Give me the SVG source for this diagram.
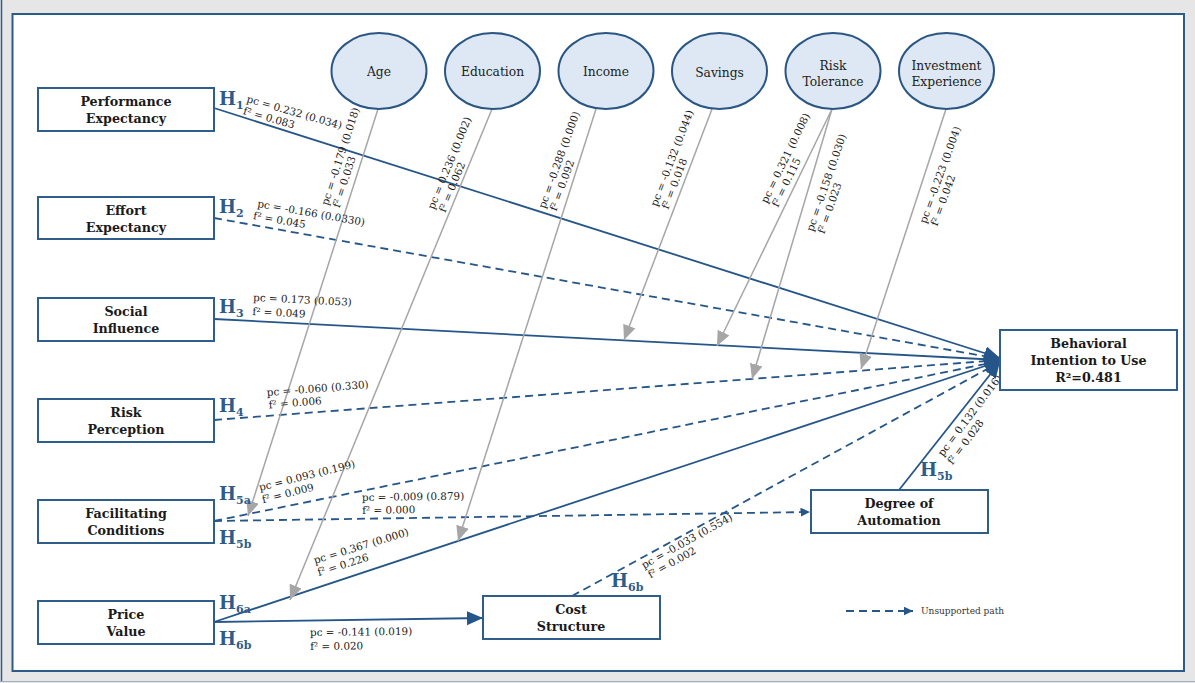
<svg xmlns="http://www.w3.org/2000/svg" width="1195" height="683" viewBox="0 0 1195 683">
  <defs>
    <style>
      .frame { fill: #ffffff; stroke: #2d5a87; stroke-width: 2; }
      .box { fill: #ffffff; stroke: #2f5d8c; stroke-width: 2; }
      .oval { fill: #dde8f4; stroke: #2a5684; stroke-width: 2; }
      .bt { font-family: "DejaVu Serif", "Liberation Serif", serif; font-weight: bold; font-size: 12.7px; fill: #1a1a1a; text-anchor: middle; }
      .ot { font-family: "DejaVu Serif", "Liberation Serif", serif; font-size: 12.3px; fill: #222222; text-anchor: middle; }
      .lab { font-family: "DejaVu Serif", "Liberation Serif", serif; font-size: 10.4px; fill: #1a1a1a; }
      .h { font-family: "DejaVu Serif", "Liberation Serif", serif; font-weight: bold; font-size: 18px; fill: #2e5c8a; }
      .h tspan { font-size: 11px; }
      .leg { font-family: "DejaVu Serif", "Liberation Serif", serif; font-size: 9px; fill: #333333; }
      .sol { fill: none; stroke: #255689; stroke-width: 1.8; }
      .dash { fill: none; stroke: #255689; stroke-width: 1.8; stroke-dasharray: 8 5; }
      .mod { fill: none; stroke: #a6a6a6; stroke-width: 1.5; marker-end: url(#arrGray); }
    </style>
    <marker id="arrBig" markerUnits="userSpaceOnUse" markerWidth="16" markerHeight="16" refX="16" refY="7" orient="auto">
      <path d="M0,0 L16,7 L0,14 Z" fill="#255689"/>
    </marker>
    <marker id="arrSm" markerUnits="userSpaceOnUse" markerWidth="10" markerHeight="10" refX="9.5" refY="4.5" orient="auto">
      <path d="M0,0 L9.5,4.5 L0,9 Z" fill="#255689"/>
    </marker>
    <marker id="arrGray" markerUnits="userSpaceOnUse" markerWidth="16" markerHeight="14" refX="15" refY="6.5" orient="auto">
      <path d="M0,0 L15,6.5 L0,13 Z" fill="#a6a6a6"/>
    </marker>
  </defs>

  <!-- page background and panel -->
  <rect x="0" y="0" width="1195" height="683" fill="#e6e6e6"/>
  <line x1="1.5" y1="0" x2="1.5" y2="682" stroke="#2e5e8e" stroke-width="1.5"/>
  <line x1="0" y1="681.5" x2="1195" y2="681.5" stroke="#9fb0c2" stroke-width="1"/>
  <rect class="frame" x="12.5" y="14" width="1171.5" height="657"/>

  <!-- connectors -->
  <g id="connectors">
    <path class="sol" d="M214,108 L1000,358" marker-end="url(#arrBig)"/>
    <path class="dash" d="M214,218 L1000,359" marker-end="url(#arrSm)"/>
    <path class="sol" d="M214,319 L1000,360" marker-end="url(#arrBig)"/>
    <path class="dash" d="M214,420 L1000,360" marker-end="url(#arrSm)"/>
    <path class="dash" d="M214,521 L1000,361" marker-end="url(#arrSm)"/>
    <path class="dash" d="M214,521 L810,512" marker-end="url(#arrSm)"/>
    <path class="sol" d="M214,622 L1000,361" marker-end="url(#arrBig)"/>
    <path class="sol" d="M214,622 L483,618" marker-end="url(#arrBig)"/>
    <path class="dash" d="M572,596 L1000,362" marker-end="url(#arrSm)"/>
    <path class="sol" d="M899,490 L1000,362" marker-end="url(#arrBig)"/>

    <!-- moderating effects -->
    <path class="mod" d="M378,109 L248,516"/>
    <path class="mod" d="M492,109 L290,600"/>
    <path class="mod" d="M596,109 L458,541"/>
    <path class="mod" d="M712,109 L624,340"/>
    <path class="mod" d="M832,109 L717,346"/>
    <path class="mod" d="M832,109 L752,379"/>
    <path class="mod" d="M946,109 L861,369"/>

    <!-- path coefficients -->
    <g class="lab">
      <g transform="translate(246,102) rotate(16)"><text x="0" y="0">pc = 0.232 (0.034)</text><text x="0" y="12.5">f² = 0.083</text></g>
      <g transform="translate(257,207) rotate(10)"><text x="0" y="0">pc = -0.166 (0.0330)</text><text x="-2" y="12.5">f² = 0.045</text></g>
      <g transform="translate(253,301) rotate(2.8)"><text x="0" y="0">pc = 0.173 (0.053)</text><text x="0" y="14">f² = 0.049</text></g>
      <g transform="translate(267,396) rotate(-4.5)"><text x="0" y="0">pc = -0.060 (0.330)</text><text x="1" y="12.5">f² = 0.006</text></g>
      <g transform="translate(260,491) rotate(-14)"><text x="0" y="0">pc = 0.093 (0.199)</text><text x="0" y="12.5">f² = 0.009</text></g>
      <g transform="translate(362,501) rotate(-0.8)"><text x="0" y="0">pc = -0.009 (0.879)</text><text x="0" y="13">f² = 0.000</text></g>
      <g transform="translate(315,564) rotate(-17)"><text x="0" y="0">pc = 0.367 (0.000)</text><text x="0" y="12.5">f² = 0.226</text></g>
      <g transform="translate(310,636) rotate(-0.6)"><text x="0" y="0">pc = -0.141 (0.019)</text><text x="0" y="14">f² = 0.020</text></g>
      <g transform="translate(644,569) rotate(-29)"><text x="0" y="0">pc = -0.033 (0.554)</text><text x="1" y="11.5">f² = 0.002</text></g>
      <g transform="translate(943,457) rotate(-53)"><text x="0" y="0">pc = 0.132 (0.016)</text><text x="-1" y="12.5">f² = 0.028</text></g>

      <g transform="translate(328,206) rotate(-72)"><text x="0" y="0">pc = -0.179 (0.018)</text><text x="1.5" y="11.5">f² = 0.033</text></g>
      <g transform="translate(434,210) rotate(-67.6)"><text x="0" y="0">pc = 0.236 (0.002)</text><text x="1.5" y="11.5">f² = 0.062</text></g>
      <g transform="translate(545,209) rotate(-70)"><text x="0" y="0">pc = -0.288 (0.000)</text><text x="1.5" y="11.5">f² = 0.092</text></g>
      <g transform="translate(657,207) rotate(-69)"><text x="0" y="0">pc = -0.132 (0.044)</text><text x="1.5" y="11.5">f² = 0.018</text></g>
      <g transform="translate(767,204) rotate(-64)"><text x="0" y="0">pc = 0.321 (0.008)</text><text x="1.5" y="11.5">f² = 0.115</text></g>
      <g transform="translate(813,232) rotate(-71)"><text x="0" y="0">pc = -0.158 (0.030)</text><text x="1.5" y="11.5">f² = 0.023</text></g>
      <g transform="translate(926,224) rotate(-70)"><text x="0" y="0">pc = -0.223 (0.004)</text><text x="1.5" y="11.5">f² = 0.042</text></g>
    </g>

    <!-- hypothesis tags -->
    <text class="h" x="219" y="105">H<tspan dy="4">1</tspan></text>
    <text class="h" x="219" y="212.5">H<tspan dy="4">2</tspan></text>
    <text class="h" x="219" y="313">H<tspan dy="4">3</tspan></text>
    <text class="h" x="219" y="412">H<tspan dy="4">4</tspan></text>
    <text class="h" x="219" y="500">H<tspan dy="4">5a</tspan></text>
    <text class="h" x="219" y="544">H<tspan dy="4">5b</tspan></text>
    <text class="h" x="219" y="609">H<tspan dy="4">6a</tspan></text>
    <text class="h" x="219" y="645">H<tspan dy="4">6b</tspan></text>
    <text class="h" x="611" y="587">H<tspan dy="4">6b</tspan></text>
    <text class="h" x="920" y="476">H<tspan dy="4">5b</tspan></text>
  </g>

  <!-- constructs -->
  <g id="performance-expectancy"><rect class="box" x="38" y="88" width="176" height="43"/><text class="bt" x="126" y="106">Performance</text><text class="bt" x="126" y="123">Expectancy</text></g>
  <g id="effort-expectancy"><rect class="box" x="38" y="197" width="176" height="42"/><text class="bt" x="126" y="214.5">Effort</text><text class="bt" x="126" y="231.5">Expectancy</text></g>
  <g id="social-influence"><rect class="box" x="38" y="298" width="176" height="43"/><text class="bt" x="126" y="316">Social</text><text class="bt" x="126" y="333">Influence</text></g>
  <g id="risk-perception"><rect class="box" x="38" y="399" width="176" height="43"/><text class="bt" x="126" y="417">Risk</text><text class="bt" x="126" y="434">Perception</text></g>
  <g id="facilitating-conditions"><rect class="box" x="38" y="500" width="176" height="43"/><text class="bt" x="126" y="518">Facilitating</text><text class="bt" x="126" y="535">Conditions</text></g>
  <g id="price-value"><rect class="box" x="38" y="601" width="176" height="43"/><text class="bt" x="126" y="619">Price</text><text class="bt" x="126" y="636">Value</text></g>
  <g id="cost-structure"><rect class="box" x="483" y="596" width="177" height="43"/><text class="bt" x="571" y="614">Cost</text><text class="bt" x="571" y="631">Structure</text></g>
  <g id="degree-of-automation"><rect class="box" x="811" y="490" width="177" height="43"/><text class="bt" x="899" y="508">Degree of</text><text class="bt" x="899" y="525">Automation</text></g>
  <g id="behavioral-intention"><rect class="box" x="1000" y="330" width="177" height="60"/><text class="bt" x="1088.5" y="348">Behavioral</text><text class="bt" x="1088.5" y="365">Intention to Use</text><text class="bt" x="1088.5" y="382">R²=0.481</text></g>

  <!-- moderators -->
  <g id="age"><ellipse class="oval" cx="379" cy="71" rx="47.5" ry="38"/><text class="ot" x="379" y="75.5">Age</text></g>
  <g id="education"><ellipse class="oval" cx="492.5" cy="71" rx="47.5" ry="38"/><text class="ot" x="492.5" y="75.5">Education</text></g>
  <g id="income"><ellipse class="oval" cx="606" cy="71" rx="47.5" ry="38"/><text class="ot" x="606" y="75.5">Income</text></g>
  <g id="savings"><ellipse class="oval" cx="719.5" cy="71" rx="47.5" ry="38"/><text class="ot" x="719.5" y="76.5">Savings</text></g>
  <g id="risk-tolerance"><ellipse class="oval" cx="833" cy="71" rx="47.5" ry="38"/><text class="ot" x="833" y="69.5">Risk</text><text class="ot" x="833" y="85.5">Tolerance</text></g>
  <g id="investment-experience"><ellipse class="oval" cx="946.5" cy="71" rx="47.5" ry="38"/><text class="ot" x="946.5" y="69.5">Investment</text><text class="ot" x="946.5" y="85.5">Experience</text></g>

  <!-- legend -->
  <g id="legend">
    <path class="dash" d="M846,611 L913,611" stroke-dasharray="6 4" marker-end="url(#arrSm)"/>
    <text class="leg" x="921" y="614">Unsupported path</text>
  </g>
</svg>
